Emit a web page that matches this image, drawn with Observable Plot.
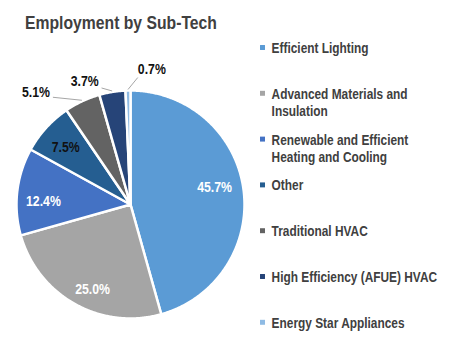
<!DOCTYPE html>
<html>
<head>
<meta charset="utf-8">
<script src="https://cdn.jsdelivr.net/npm/d3@7"></script>
<script src="https://cdn.jsdelivr.net/npm/@observablehq/plot@0.6"></script>
<style>
  html, body { margin: 0; padding: 0; background: #fff; }
  #wrap { width: 450px; height: 347px; overflow: hidden; }
  #title { position: relative; height: 40px; }
  #title span {
    position: absolute; left: 25px; top: 14px; line-height: 1;
    font-family: 'Liberation Sans', Arial, sans-serif;
    font-weight: bold; font-size: 18.5px; color: #404040; white-space: nowrap;
    transform: scaleX(0.85); transform-origin: 0 0;
  }
</style>
</head>
<body>
<div id="wrap">
  <div id="title"><span>Employment by Sub-Tech</span></div>
  <div id="chart"></div>
</div>
<script>
// ---- data ----
const categories = [
  "Efficient Lighting",
  "Advanced Materials and Insulation",
  "Renewable and Efficient Heating and Cooling",
  "Other",
  "Traditional HVAC",
  "High Efficiency (AFUE) HVAC",
  "Energy Star Appliances"
];
const shares = [45.7, 25.0, 12.4, 7.5, 5.1, 3.7, 0.7];
const colors = ["#5B9BD5", "#A5A5A5", "#4472C4", "#255E91", "#636363", "#264478", "#8FBBE4"];

// ---- layout (not data) ----
const W = 450, H = 307;
const cx = 130, cy = 164, R = 114;
const insideFrac = 0.77;
const insideTextColor = {"Other": "#111"};
const insideNudge = {
  "Efficient Lighting": [-3, -5],
  "Advanced Materials and Insulation": [5, 8],
  "Renewable and Efficient Heating and Cooling": [0, 7],
  "Other": [0, 2]
};
// label offsets for the small slices relative to the slice's outer-edge midpoint
const outsideLayout = {
  "Traditional HVAC":           {dx: -32,  dy: -8.5, anchor: "end",   lx: -29,  ly: -3},
  "High Efficiency (AFUE) HVAC":{dx: -13.6,dy: -9.3, anchor: "end",   lx: -10.6,ly: -3},
  "Energy Star Appliances":     {dx: 9.8,  dy: -20,  anchor: "start", lx: 9.8,  ly: -12}
};
const legendX = 262, legendTextX = 271, legendY0 = 7, legendStep = 45.8, lineH = 17;
const font = "'Liberation Sans', Arial, sans-serif";
const condense = 0.82;

// ---- derived geometry ----
const total = d3.sum(shares);
const toRad = d => d * Math.PI / 180;
const pt = (angDeg, r) => ({x: cx + r * Math.sin(toRad(angDeg)), y: cy - r * Math.cos(toRad(angDeg))});

let acc = 0;
const slices = categories.map((cat, i) => {
  const a0 = acc / total * 360;
  acc += shares[i];
  const a1 = acc / total * 360;
  return {cat, value: shares[i], a0, a1, mid: (a0 + a1) / 2, label: shares[i].toFixed(1) + "%"};
});

const slicePts = [];
for (const s of slices) {
  slicePts.push({cat: s.cat, x: cx, y: cy});
  const n = Math.max(2, Math.ceil((s.a1 - s.a0) / 0.5));
  for (let k = 0; k <= n; k++) {
    const p = pt(s.a0 + (s.a1 - s.a0) * k / n, R);
    slicePts.push({cat: s.cat, ...p});
  }
  slicePts.push({cat: s.cat, x: cx, y: cy});
}

const inside = slices.filter(s => !outsideLayout[s.cat]).map(s => {
  const p = pt(s.mid, R * insideFrac), n = insideNudge[s.cat] || [0, 0];
  return {...s, x: p.x + n[0], y: p.y + n[1]};
});
const outside = slices.filter(s => outsideLayout[s.cat]).map(s => {
  const e = pt(s.mid, R + 1), L = outsideLayout[s.cat];
  return {...s, ex: e.x, ey: e.y, tx: e.x + L.dx, ty: e.y + L.dy, lx: e.x + L.lx, ly: e.y + L.ly, anchor: L.anchor};
});

// legend wrapping
function wrap(str, max) {
  const words = str.split(" "); const lines = []; let cur = "";
  for (const w of words) {
    if (cur && (cur + " " + w).length > max) { lines.push(cur); cur = w; }
    else cur = cur ? cur + " " + w : w;
  }
  lines.push(cur); return lines;
}
const legend = categories.map((cat, i) => {
  const lines = wrap(cat, 27);
  const y = legendY0 + i * legendStep;
  return {cat, text: lines.join("\n"), y, ty: y + (lines.length - 1) * lineH / 2};
});

const chart = Plot.plot({
  width: W, height: H, margin: 0,
  x: {domain: [0, W], range: [0, W], axis: null},
  y: {domain: [0, H], range: [0, H], axis: null},
  color: {domain: categories, range: colors},
  style: {fontFamily: font, background: "#fff", overflow: "visible"},
  marks: [
    Plot.line(slicePts, {x: "x", y: "y", z: "cat", fill: "cat", stroke: "#fff", strokeWidth: 2.5, strokeLinejoin: "round"}),
    Plot.text(inside, {x: "x", y: "y", text: "label", fill: d => insideTextColor[d.cat] || "#fff",
      fontSize: 15, fontWeight: "bold"}),
    Plot.link(outside, {x1: "ex", y1: "ey", x2: "lx", y2: "ly", stroke: "#A6A6A6", strokeWidth: 1}),
    Plot.text(outside.filter(d => d.anchor === "end"), {x: "tx", y: "ty", text: "label", textAnchor: "end", fill: "#111", fontSize: 15, fontWeight: "bold"}),
    Plot.text(outside.filter(d => d.anchor === "start"), {x: "tx", y: "ty", text: "label", textAnchor: "start", fill: "#111", fontSize: 15, fontWeight: "bold"}),
    Plot.dot(legend, {x: () => legendX, y: "y", fill: "cat", symbol: "square", r: 2.8, stroke: null}),
    Plot.text(legend, {x: () => legendTextX, y: "ty", text: "text", textAnchor: "start", lineAnchor: "middle",
      lineHeight: lineH / 14.5, fill: "#404040", fontSize: 14.5, fontWeight: "bold"})
  ]
});
document.getElementById("chart").appendChild(chart);

// emulate a narrow typeface: condense each text horizontally about its anchor point
const svgRect = chart.getBoundingClientRect();
chart.querySelectorAll("text").forEach(t => {
  const r = t.getBoundingClientRect();
  const anchor = getComputedStyle(t).textAnchor;
  const left = r.left - svgRect.left, right = r.right - svgRect.left;
  const ax = anchor === "end" ? right : anchor === "middle" ? (left + right) / 2 : left;
  const g = document.createElementNS("http://www.w3.org/2000/svg", "g");
  g.setAttribute("transform", `translate(${ax},0) scale(${condense},1) translate(${-ax},0)`);
  t.parentNode.insertBefore(g, t);
  g.appendChild(t);
});
</script>
</body>
</html>
